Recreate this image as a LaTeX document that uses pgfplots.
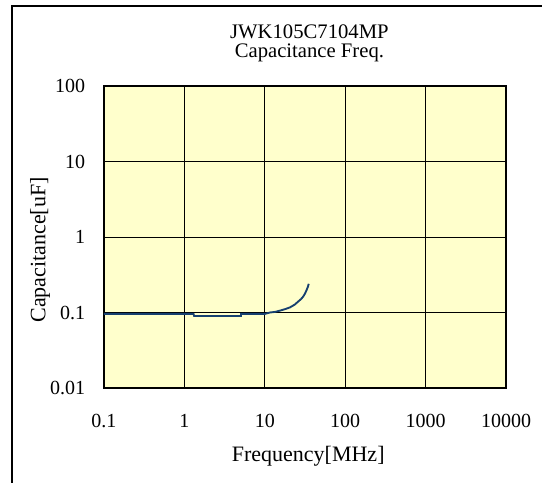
\documentclass[border=0pt]{standalone}
\usepackage{fontspec}
\setmainfont{Liberation Serif}
\usepackage{pgfplots}
\pgfplotsset{compat=1.18}
\definecolor{plotbg}{RGB}{255,255,204}
\definecolor{curve}{RGB}{22,64,112}

\begin{document}
\begin{tikzpicture}
  % fixed page: 542 x 482 px, 1px = 0.75pt, axis box at origin
  \useasboundingbox (-78pt,-70.5pt) rectangle (328.5pt,291pt);
  \draw[line width=1.1pt] (-69pt,-80pt) -- (-69pt,286.5pt) -- (340pt,286.5pt);
  \begin{axis}[
      scale only axis,
      width=301.5pt,
      height=226.5pt,
      xmode=log, ymode=log,
      xmin=0.1, xmax=10000,
      ymin=0.01, ymax=100,
      xtick={0.1,1,10,100,1000,10000},
      xticklabels={0.1,1,10,100,1000,10000},
      ytick={0.01,0.1,1,10,100},
      yticklabels={0.01,0.1,1,10,100},
      xminorticks=false, yminorticks=false,
      major tick length=0pt,
      grid=major,
      major grid style={black, line width=0.6pt},
      axis line style={black, line width=1.1pt},
      axis background/.style={fill=plotbg},
      font=\fontsize{15}{14}\selectfont,
      /pgf/number format/assume math mode=true,
      xticklabel style={anchor=center, inner sep=0pt, yshift=-24.5pt},
      yticklabel style={anchor=east, inner sep=0pt, xshift=-14pt},
      xlabel={Frequency[MHz]},
      xlabel style={font=\fontsize{16.5}{16}\selectfont, at={(axis description cs:0.508,0)}, anchor=center, yshift=-51pt},
      title={JWK105C7104MP\\Capacitance Freq.},
      title style={font=\fontsize{15.5}{14.5}\selectfont, align=center, at={(axis description cs:0.511,1)}, anchor=center, yshift=26pt},
      clip=false,
    ]
    \addplot[curve, line width=1.4pt] coordinates {
      (0.1,0.0958) (1.30,0.0958) (1.32,0.0900) (5.05,0.0900) (5.07,0.0958)
      (10.0,0.0958) (11.6,0.100) (13.5,0.102) (15.5,0.106) (18.0,0.111)
      (20.6,0.117) (23.5,0.127) (26.1,0.140) (28.3,0.151) (30.1,0.163)
      (31.8,0.180) (33.2,0.200) (34.3,0.218) (35.2,0.240)
    };
    % y axis label
    \node[rotate=90, font=\fontsize{16.5}{16}\selectfont, anchor=center]
      at (axis description cs:-0.159,0.457) {Capacitance[uF]};
  \end{axis}
\end{tikzpicture}
\end{document}
